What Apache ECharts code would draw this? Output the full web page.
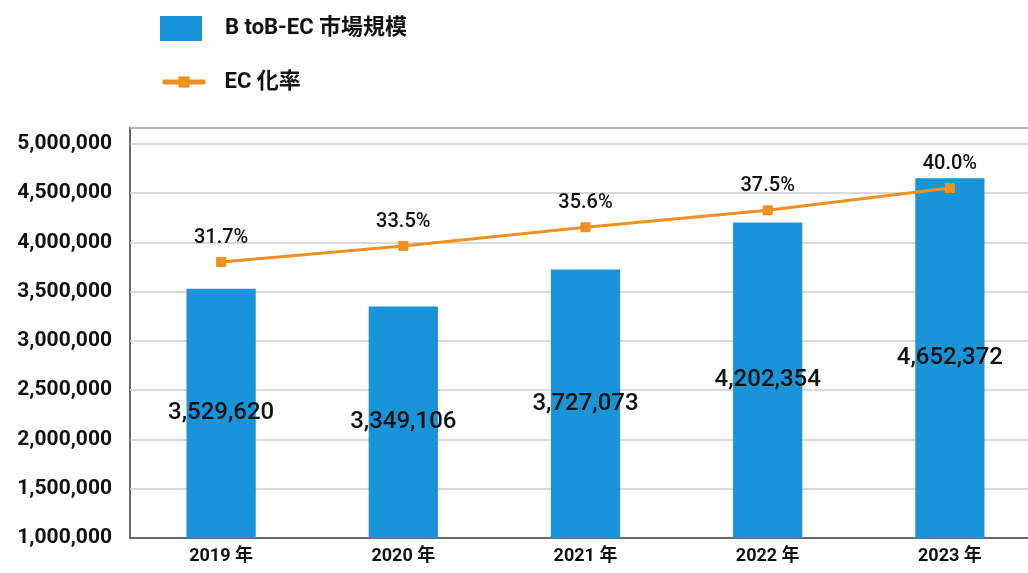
<!DOCTYPE html>
<html>
<head>
<meta charset="utf-8">
<script src="https://cdn.jsdelivr.net/npm/echarts@6/dist/echarts.min.js"></script>
<style>
  html, body { margin: 0; padding: 0; background: #fff; }
  #main { width: 1028px; height: 573px; }
</style>
</head>
<body>
<div id="main"></div>
<script>
// BtoB-EC 市場規模 + EC化率
var years = ['2019 年', '2020 年', '2021 年', '2022 年', '2023 年'];
var marketSize = [3529620, 3349106, 3727073, 4202354, 4652372];
var ecRate = [31.7, 33.5, 35.6, 37.5, 40.0];
var barName = 'B toB-EC 市場規模';
var lineName = 'EC 化率';

var myChart = echarts.init(document.getElementById('main'));

function fmt(n) {
  return String(n).replace(/\B(?=(\d{3})+(?!\d))/g, ',');
}

var option = {
  backgroundColor: '#fff',
  animation: false,
  textStyle: { fontFamily: 'Roboto, "Noto Sans CJK JP", sans-serif' },
  legend: [{
    left: 160,
    top: 16,
    padding: 0,
    icon: 'rect',
    itemWidth: 42,
    itemHeight: 25,
    textStyle: { fontSize: 22, fontWeight: 'bold', color: '#111', padding: [0, 0, 0, 18] },
    data: [barName]
  }, {
    left: 160,
    top: 71,
    padding: 0,
    itemWidth: 43,
    itemHeight: 14,
    lineStyle: { width: 5 },
    textStyle: { fontSize: 22, fontWeight: 'bold', color: '#111', padding: [0, 0, 0, 14] },
    data: [lineName]
  }],
  grid: {
    left: 130,
    top: 128,
    width: 911,
    height: 410,
    outerBoundsMode: 'none',
    show: true,
    borderColor: '#6a6a6a',
    borderWidth: 2
  },
  xAxis: {
    type: 'category',
    data: years,
    axisTick: { show: false },
    axisLine: { lineStyle: { color: '#6a6a6a', width: 2 } },
    axisLabel: { color: '#111', fontSize: 18, fontWeight: 'bold', margin: 10 }
  },
  yAxis: [{
    type: 'value',
    min: 1000000,
    max: 5162400,   // 枠の上端が 5,000,000 より少し上
    interval: 500000,
    axisLine: { show: false },
    axisTick: { show: false },
    splitLine: { lineStyle: { color: '#cccccc', width: 1.5 } },
    axisLabel: {
      color: '#111',
      fontSize: 21,
      fontWeight: 'bold',
      margin: 18,
      formatter: function (v) {
        return v % 500000 === 0 ? fmt(v) : '';
      }
    }
  }, {
    type: 'value',
    min: 0.74,
    max: 46.73,
    show: false,
    splitLine: { show: false }
  }],
  series: [{
    name: barName,
    type: 'bar',
    barWidth: '38%',
    itemStyle: { color: '#1a94d8' },
    label: {
      show: true,
      position: 'inside',
      color: '#111',
      fontSize: 24,
      fontWeight: 500,
      formatter: function (p) { return fmt(p.value); }
    },
    data: marketSize
  }, {
    name: lineName,
    type: 'line',
    yAxisIndex: 1,
    symbol: 'rect',
    symbolSize: 10,
    lineStyle: { color: '#f0901e', width: 3 },
    itemStyle: { color: '#f0901e' },
    label: {
      show: true,
      position: 'top',
      distance: 9,
      color: '#111',
      fontSize: 20,
      fontWeight: 500,
      formatter: function (p) { return p.value.toFixed(1) + '%'; }
    },
    data: ecRate
  }]
};

myChart.setOption(option, true);
window.addEventListener('resize', function () {
  myChart.resize();
});
</script>
</body>
</html>
